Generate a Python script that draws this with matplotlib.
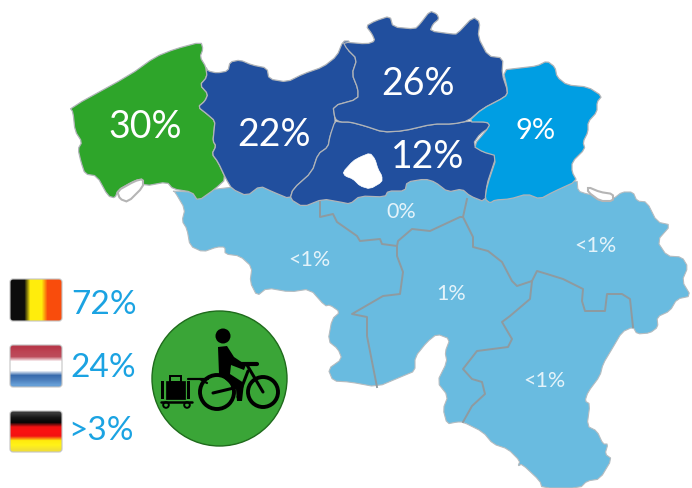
import numpy as np
import matplotlib
matplotlib.use("Agg")
import matplotlib.pyplot as plt
from matplotlib.patches import Polygon, Circle, FancyBboxPatch, Rectangle

plt.rcParams["font.family"] = ["Lato", "DejaVu Sans"]

# values
province_labels = ["30%", "22%", "26%", "12%", "9%", "0%", "<1%", "1%", "<1%", "<1%"]
legend_labels = ["72%", "24%", ">3%"]

# outlines in image pixels
west_flanders = [(70,109),(130,76),(155,58),(175,50),(201,43),(203,50),(200,58),(206,68),(207,78),(200,86),(208,95),(205,102),(198,108),(207,115),(215,122),(214,132),(213,142),(216,147),(212,155),(218,163),(226,180),(215,190),(198,202),(192,193),(173,190),(167,183),(145,187),(140,180),(132,183),(118,191),(115,199),(108,197),(97,177),(85,175),(81,163),(78,150),(82,143),(75,132),(73,113)]
east_flanders = [(206,68),(208,72),(217,74),(228,72),(230,63),(240,61),(252,66),(267,69),(269,80),(287,83),(303,75),(323,68),(337,57),(343,42),(350,42),(347,50),(357,60),(352,75),(358,90),(358,100),(333,107),(335,120),(335,124),(330,137),(328,148),(318,155),(312,173),(293,190),(290,200),(273,193),(260,187),(247,197),(232,190),(226,180),(218,163),(212,155),(216,147),(213,142),(214,132),(215,122),(207,115),(198,108),(205,102),(208,95),(200,86),(207,78)]
antwerp = [(343,43),(367,45),(375,42),(372,35),(366,27),(375,22),(390,17),(393,28),(415,30),(420,25),(430,12),(437,15),(439,20),(433,25),(430,32),(452,35),(457,35),(473,18),(480,23),(478,38),(488,57),(503,59),(502,75),(508,93),(505,98),(482,110),(468,122),(453,125),(433,125),(403,132),(383,133),(365,127),(350,123),(340,123),(335,120),(333,107),(358,100),(358,90),(352,75),(357,60),(347,50)]
flemish_brabant = [(335,122),(340,123),(350,123),(365,127),(383,133),(403,132),(433,125),(453,125),(468,122),(487,123),(492,127),(480,135),(473,145),(483,153),(497,155),(492,170),(487,185),(485,203),(470,197),(462,190),(448,193),(435,183),(425,180),(407,183),(405,192),(388,192),(385,198),(360,197),(350,205),(340,203),(323,200),(303,208),(290,200),(293,190),(312,173),(318,155),(328,148),(330,137)]
brussels = [(343,173),(353,162),(360,158),(370,154),(375,160),(378,170),(382,177),(382,183),(370,190),(360,187),(353,180),(345,177)]
limburg = [(503,71),(520,69),(537,67),(547,62),(555,68),(557,78),(567,86),(588,88),(602,97),(597,103),(597,113),(588,123),(588,133),(583,143),(585,150),(572,163),(572,173),(577,182),(553,193),(540,200),(527,195),(510,200),(495,201),(490,204),(485,200),(487,187),(497,157),(483,153),(473,147),(490,127),(487,123),(468,123),(482,110),(505,98),(508,93)]
wallonia = [(173,192),(192,193),(300,180),(480,180),(577,180),(578,192),(587,195),(613,200),(622,193),(633,193),(637,202),(647,203),(657,223),(671,226),(657,242),(667,257),(682,258),(688,268),(682,282),(691,297),(677,300),(670,312),(657,318),(658,328),(650,334),(637,335),(633,328),(622,333),(612,350),(603,365),(600,377),(588,393),(585,402),(590,405),(587,427),(597,432),(603,445),(608,445),(605,455),(612,460),(600,480),(587,482),(580,489),(542,489),(540,482),(522,465),(518,467),(520,462),(508,450),(493,445),(483,433),(463,423),(457,423),(447,425),(443,410),(448,397),(437,383),(447,363),(445,353),(450,340),(437,335),(427,343),(415,358),(415,372),(403,377),(377,388),(350,383),(333,382),(328,370),(342,360),(338,350),(328,342),(332,320),(340,313),(330,306),(325,307),(310,290),(290,293),(267,289),(257,297),(250,283),(252,268),(240,257),(225,255),(225,248),(217,248),(203,253),(190,247),(187,230),(182,222),(185,210),(175,193)]
comines = [(117,192),(135,182),(143,180),(143,188),(128,203),(120,200)]
voeren = [(588,188),(600,193),(613,195),(613,202),(600,202),(588,193)]
inner_borders = [
    [(320,203),(320,218),(333,215),(337,223),(357,237),(360,242),(380,240),(382,245),(397,247),(398,242),(412,230),(430,232),(460,218),(463,218),(467,200)],
    [(397,247),(397,257),(403,273),(400,295),(383,297),(352,315),(367,318),(367,337),(377,388)],
    [(463,218),(473,238),(473,248),(488,252),(502,263),(512,282),(517,287),(532,282),(530,300),(510,317),(502,323),(512,340),(508,348),(477,352),(463,370),(472,380),(482,383),(485,395),(472,407),(463,423)],
    [(532,282),(537,272),(547,275),(563,280),(583,290),(582,302),(585,312),(605,312),(607,295),(622,295),(630,300),(633,328)],
]

GREEN = "#2ea52a"
DARK = "#214f9e"
MID = "#009ee3"
LIGHT = "#69bbe0"
TEXT_BLUE = "#1ba3e2"


def soften(points):
    # round off the corners of a closed outline
    p = np.array(points, dtype=float)
    q = np.roll(p, -1, axis=0)
    out = np.empty((len(p) * 2, 2))
    out[0::2] = 0.8 * p + 0.2 * q
    out[1::2] = 0.2 * p + 0.8 * q
    return out


fig = plt.figure(figsize=(6.92, 4.89), dpi=100)
ax = fig.add_axes([0, 0, 1, 1])
ax.set_xlim(0, 692)
ax.set_ylim(489, 0)
ax.axis("off")

ax.add_patch(Polygon(soften(wallonia), closed=True, fc=LIGHT, ec="#b5bcc0", lw=0.8, joinstyle="round"))
for border in inner_borders:
    b = np.array(border)
    ax.plot(b[:, 0], b[:, 1], color="#8f9a9f", lw=1.4, solid_joinstyle="round")
for shape, col in [(west_flanders, GREEN), (east_flanders, DARK), (flemish_brabant, DARK), (antwerp, DARK), (limburg, MID)]:
    ax.add_patch(Polygon(soften(shape), closed=True, fc=col, ec="#b0b4b8", lw=0.9, joinstyle="round"))
ax.add_patch(Polygon(soften(brussels), closed=True, fc="white", ec="white", lw=0.5, zorder=3))
for shape in [comines, voeren]:
    ax.add_patch(Polygon(soften(shape), closed=True, fc="white", ec="#b5b5b5", lw=1.5, zorder=3))

# province labels
label_x = [145, 274, 418, 428, 536, 401, 309, 451, 595, 544]
label_y = [127, 135, 84, 157, 131, 212, 260, 294, 246, 381]
label_size = [27, 27, 27, 27, 21, 15.5, 15.5, 15.5, 15.5, 15.5]
for txt, x, y, s in zip(province_labels, label_x, label_y, label_size):
    ax.text(x, y, txt, color="white" if s > 16 else "#e4f3fa", fontsize=s, ha="center", va="center", zorder=5)


# flags
def flag(y0, h, pixels):
    im = ax.imshow(pixels, extent=(10, 62, y0 + h, y0), aspect="auto", zorder=4, interpolation="bilinear")
    box = FancyBboxPatch((10, y0), 52, h, boxstyle="round,pad=0,rounding_size=3", fc="none", ec="#c4c4c4", lw=0.8, zorder=5)
    ax.add_patch(box)
    im.set_clip_path(box)


be = np.zeros((4, 9, 3))
be[:, :3] = [0.05, 0.05, 0.05]
be[:, 3:6] = [1.0, 0.93, 0.05]
be[:, 6:] = [0.98, 0.30, 0.05]
flag(280, 42, be)

nl = np.array([[[0.72, 0.22, 0.29]], [[0.74, 0.27, 0.33]], [[0.74, 0.30, 0.36]], [[1, 1, 1]], [[1, 1, 1]], [[1, 1, 1]], [[0.22, 0.42, 0.68]], [[0.30, 0.50, 0.74]], [[0.40, 0.62, 0.84]]])
flag(346, 42, nl)

de = np.array([[[0.22, 0.22, 0.22]], [[0.08, 0.08, 0.08]], [[0.02, 0.02, 0.02]], [[0.95, 0.07, 0.07]], [[0.98, 0.07, 0.07]], [[0.95, 0.07, 0.07]], [[1, 0.92, 0.05]], [[1, 0.95, 0.1]], [[0.95, 0.88, 0.2]]])
flag(412, 41, de)
ax.set_xlim(0, 692)
ax.set_ylim(489, 0)

for txt, x, y in zip(legend_labels, [71, 70, 68], [305, 368, 431]):
    ax.text(x, y, txt, color=TEXT_BLUE, fontsize=24, ha="left", va="center", zorder=5)

# cargo bike badge
ax.add_patch(Circle((219.5, 379.5), 67.5, fc="#3aa537", ec="#1f6b1c", lw=1.0, zorder=4))
ink = dict(color="black", zorder=6, solid_capstyle="round")
ax.add_patch(Circle((223, 337), 7.5, fc="black", zorder=6))
ax.add_patch(Polygon([(218,348),(227,347),(234,358),(246,366),(244,371),(231,366),(230,375),(244,384),(242,402),(237,402),(236,390),(219,375)], closed=True, fc="black", zorder=6))
ax.add_patch(Circle((217, 393), 17, fc="none", ec="black", lw=2.8, zorder=6))
ax.add_patch(Circle((263, 393), 15, fc="none", ec="black", lw=2.8, zorder=6))
ax.plot([238, 257], [365, 365], lw=3, **ink)
ax.plot([247, 263], [366, 393], lw=2.2, **ink)
ax.plot([213, 238], [394, 388], lw=2.2, **ink)
ax.plot([238, 248], [398, 372], lw=2.2, **ink)
ax.plot([188, 208], [380, 380], lw=1.6, **ink)
ax.plot([200, 207], [380, 384], lw=1.6, **ink)
ax.add_patch(Rectangle((161, 382), 3, 18, fc="black", zorder=6))
ax.add_patch(Rectangle((166, 382), 19, 18, fc="black", ec="black", lw=0.5, zorder=6))
ax.add_patch(Rectangle((187, 382), 2.5, 18, fc="black", zorder=6))
ax.add_patch(Rectangle((170, 377), 11, 6, fc="none", ec="black", lw=1.4, zorder=6))
ax.plot([161, 192], [403, 403], lw=1.8, **ink)
ax.add_patch(Circle((166, 406), 2.8, fc="none", ec="black", lw=1.4, zorder=6))
ax.add_patch(Circle((187, 406), 2.8, fc="none", ec="black", lw=1.4, zorder=6))

fig.savefig("out.png", dpi=100)
